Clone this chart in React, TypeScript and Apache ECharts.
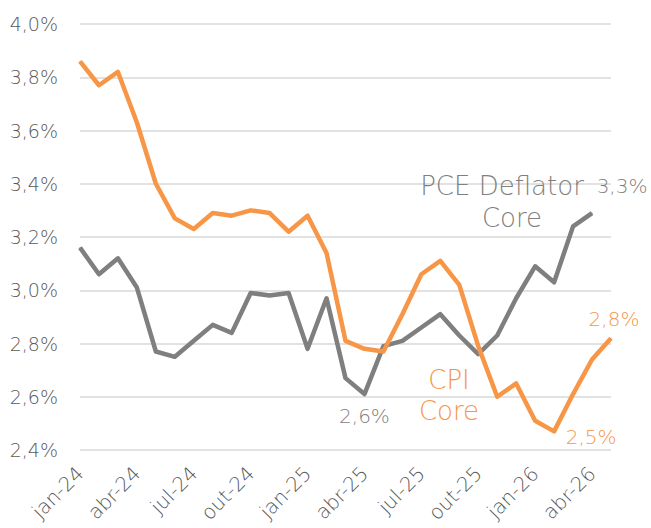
import React, { useEffect, useRef } from "react";
import * as echarts from "echarts";

const months = [
  "jan-24", "fev-24", "mar-24", "abr-24", "mai-24", "jun-24", "jul-24", "ago-24", "set-24", "out-24", "nov-24", "dez-24",
  "jan-25", "fev-25", "mar-25", "abr-25", "mai-25", "jun-25", "jul-25", "ago-25", "set-25", "out-25", "nov-25", "dez-25",
  "jan-26", "fev-26", "mar-26", "abr-26", "mai-26",
];

const cpiCore = [
  3.86, 3.77, 3.82, 3.63, 3.40, 3.27, 3.23, 3.29, 3.28, 3.30, 3.29, 3.22,
  3.28, 3.14, 2.81, 2.78, 2.77, 2.91, 3.06, 3.11, 3.02, 2.79, 2.60, 2.65,
  2.51, 2.47, 2.61, 2.74, 2.82,
];

const pceCore = [
  3.16, 3.06, 3.12, 3.01, 2.77, 2.75, 2.81, 2.87, 2.84, 2.99, 2.98, 2.99,
  2.78, 2.97, 2.67, 2.61, 2.79, 2.81, 2.86, 2.91, 2.83, 2.76, 2.83, 2.97,
  3.09, 3.03, 3.24, 3.29,
];

const yTicks = { min: 2.4, max: 4.0, interval: 0.2 };

// label annotations: index -> offset
const cpiLabels: Record<number, [number, number]> = { 25: [37, 6], 28: [3, -19] };
const pceLabels: Record<number, [number, number]> = { 15: [0, 22], 27: [30, -27] };

const ORANGE = "#f79646";
const GRAY = "#7f7f7f";
const FONT = "DejaVu Sans";

const fmt = (v: number) => v.toFixed(1).replace(".", ",") + "%";

function buildData(values: number[], labels: Record<number, [number, number]>, color: string) {
  return values.map((v, i) => {
    const off = labels[i];
    if (!off) return v;
    return {
      value: v,
      label: {
        show: true,
        position: "inside",
        offset: off,
        formatter: (p: any) => fmt(p.value),
        color,
        fontFamily: FONT,
        fontSize: 20,
        fontWeight: 300,
      },
    };
  });
}

export default function App() {
  const ref = useRef<HTMLDivElement>(null);
  useEffect(() => {
    document.body.style.margin = "0";
    const chart = echarts.init(ref.current!, undefined, { renderer: "svg" });
    chart.setOption({
      animation: false,
      backgroundColor: "#ffffff",
      grid: { left: 80, right: 40, top: 24, bottom: 78, containLabel: false },
      xAxis: {
        type: "category",
        data: months,
        boundaryGap: false,
        axisLine: { show: false },
        axisTick: { show: false },
        axisLabel: {
          interval: 2,
          rotate: 45,
          margin: 20,
          color: "#595959",
          fontFamily: FONT,
          fontSize: 20,
          fontWeight: 300,
        },
        splitLine: { show: false },
      },
      yAxis: {
        type: "value",
        min: yTicks.min,
        max: yTicks.max,
        interval: yTicks.interval,
        axisLine: { show: false },
        axisTick: { show: false },
        axisLabel: {
          margin: 22,
          color: "#595959",
          fontFamily: FONT,
          fontSize: 19,
          fontWeight: 300,
          formatter: (v: number) => fmt(v),
        },
        splitLine: { lineStyle: { color: "#d9d9d9", width: 1.5 } },
      },
      series: [
        {
          name: "CPI Core",
          type: "line",
          data: buildData(cpiCore, cpiLabels, ORANGE),
          symbol: "circle",
          symbolSize: 1,
          showSymbol: true,
          itemStyle: { color: ORANGE },
          lineStyle: { color: ORANGE, width: 4.5, join: "round" },
          z: 3,
        },
        {
          name: "PCE Deflator Core",
          type: "line",
          data: buildData(pceCore, pceLabels, GRAY),
          symbol: "circle",
          symbolSize: 1,
          showSymbol: true,
          itemStyle: { color: GRAY },
          lineStyle: { color: GRAY, width: 4.5, join: "round" },
          z: 2,
        },
      ],
      graphic: [
        { type: "text", x: 502, y: 186, style: { text: "PCE Deflator", fill: GRAY, font: `300 26px '${FONT}'`, textAlign: "center", textVerticalAlign: "middle" }, z: 10 },
        { type: "text", x: 512, y: 218, style: { text: "Core", fill: GRAY, font: `300 26px '${FONT}'`, textAlign: "center", textVerticalAlign: "middle" }, z: 10 },
        { type: "text", x: 449, y: 380, style: { text: "CPI", fill: ORANGE, font: `300 26px '${FONT}'`, textAlign: "center", textVerticalAlign: "middle" }, z: 10 },
        { type: "text", x: 449, y: 411, style: { text: "Core", fill: ORANGE, font: `300 26px '${FONT}'`, textAlign: "center", textVerticalAlign: "middle" }, z: 10 },
      ],
    });
    return () => chart.dispose();
  }, []);
  return <div ref={ref} style={{ width: 651, height: 528 }} />;
}
